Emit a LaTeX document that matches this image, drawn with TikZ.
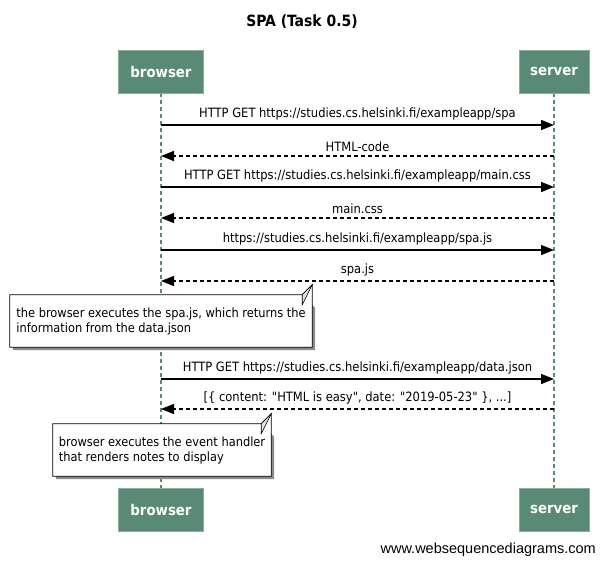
\documentclass[tikz,border=0pt]{standalone}
\usepackage{fontspec}
\setmainfont{DejaVu Sans Condensed}
\newfontfamily\footfont{Liberation Sans}
\usetikzlibrary{arrows.meta,positioning}

\definecolor{actorgreen}{HTML}{588A76}

\pgfdeclarelayer{lifelines}
\pgfdeclarelayer{shadows}
\pgfsetlayers{lifelines,shadows,main}

\tikzset{
  actor_box/.style={rectangle,fill=actorgreen,draw=actorgreen!70!white,
    minimum height=43pt,inner xsep=9pt,text=white,font=\fontsize{14.8}{14.8}\selectfont\bfseries},
  note_box/.style={rectangle,align=left,inner xsep=5pt,minimum height=52pt,
    font=\fontsize{12.7}{15}\selectfont},
  msg_label/.style={font=\fontsize{12.8}{12.8}\selectfont,above=0.5pt,midway},
}

\begin{document}
\begin{tikzpicture}[
  x=1pt, y=-1pt,
  life line/.style={actorgreen,line width=2.2pt,dash pattern=on 4pt off 3pt},
  call line/.style={line width=1.5pt,-{Triangle[length=13pt,width=10pt]}},
  reply line/.style={line width=1.5pt,dash pattern=on 4pt off 3pt,-{Triangle[length=13pt,width=10pt]}},
  ]
  \useasboundingbox (0,0) rectangle (605,565);

  \node[font=\fontsize{15.5}{15.5}\selectfont\bfseries] (title) at (302,22) {SPA (Task 0.5)};

  % actors
  \node[actor_box, minimum width=85pt] (browser) at (161,71.5) {browser};
  \node[actor_box, minimum width=70pt] (server) at (554,71.5) {server};
  \node[actor_box, minimum width=85pt] (browserb) at (161,509.5) {browser};
  \node[actor_box, minimum width=70pt] (serverb) at (554,509.5) {server};

  \begin{pgfonlayer}{lifelines}
    \draw[life line] (browser) -- (browserb);
    \draw[life line] (server) -- (serverb);
  \end{pgfonlayer}

  % message end points on the lifelines
  \foreach \Name/\Y in {1/125, 2/156, 3/187, 4/218, 5/250, 6/281, 7/379, 8/409} {
    \coordinate (b\Name) at (161,\Y);
    \coordinate (s\Name) at (554,\Y);
  }

  \draw[call line] (b1) -- (s1)
    node[msg_label] {HTTP GET https://studies.cs.helsinki.fi/exampleapp/spa};
  \draw[reply line] (s2) -- (b2) node[msg_label] {HTML-code};
  \draw[call line] (b3) -- (s3)
    node[msg_label] {HTTP GET https://studies.cs.helsinki.fi/exampleapp/main.css};
  \draw[reply line] (s4) -- (b4) node[msg_label] {main.css};
  \draw[call line] (b5) -- (s5)
    node[msg_label] {https://studies.cs.helsinki.fi/exampleapp/spa.js};
  \draw[reply line] (s6) -- (b6) node[msg_label] {spa.js};
  \draw[call line] (b7) -- (s7)
    node[msg_label] {HTTP GET https://studies.cs.helsinki.fi/exampleapp/data.json};
  \draw[reply line] (s8) -- (b8)
    node[msg_label] {[\{ content: \textquotedbl HTML is easy\textquotedbl, date: \textquotedbl 2019-05-23\textquotedbl\ \}, ...]};

  % notes
  \node[note_box, minimum width=302pt] (note1) at (161,321)
    {the browser executes the spa.js, which returns the\\information from the data.json};
  \node[note_box, minimum width=218pt] (note2) at (162,450)
    {browser executes the event handler\\that renders notes to display};

  \foreach \Note in {note1, note2} {
    \begin{pgfonlayer}{shadows}
      \fill[black!45] ([shift={(3,3)}]\Note.north west)
        -- ([shift={(-7,3)}]\Note.north east) -- ([shift={(3,13)}]\Note.north east)
        -- ([shift={(3,3)}]\Note.south east) -- ([shift={(3,3)}]\Note.south west) -- cycle;
      \fill[white] (\Note.north west)
        -- ([xshift=-10]\Note.north east) -- ([yshift=10]\Note.north east)
        -- (\Note.south east) -- (\Note.south west) -- cycle;
    \end{pgfonlayer}
    \draw[line width=0.8pt] (\Note.north west)
      -- ([xshift=-10]\Note.north east) -- ([yshift=10]\Note.north east)
      -- (\Note.south east) -- (\Note.south west) -- cycle;
    \filldraw[fill=black!12, line width=0.6pt] ([xshift=-10]\Note.north east)
      -- ([shift={(-10,10)}]\Note.north east) -- ([yshift=10]\Note.north east) -- cycle;
  }

  \node[font=\footfont\fontsize{14.5}{14.5}\selectfont, anchor=east, inner sep=0pt] (credit) at (596,550)
    {www.websequencediagrams.com};
\end{tikzpicture}
\end{document}
